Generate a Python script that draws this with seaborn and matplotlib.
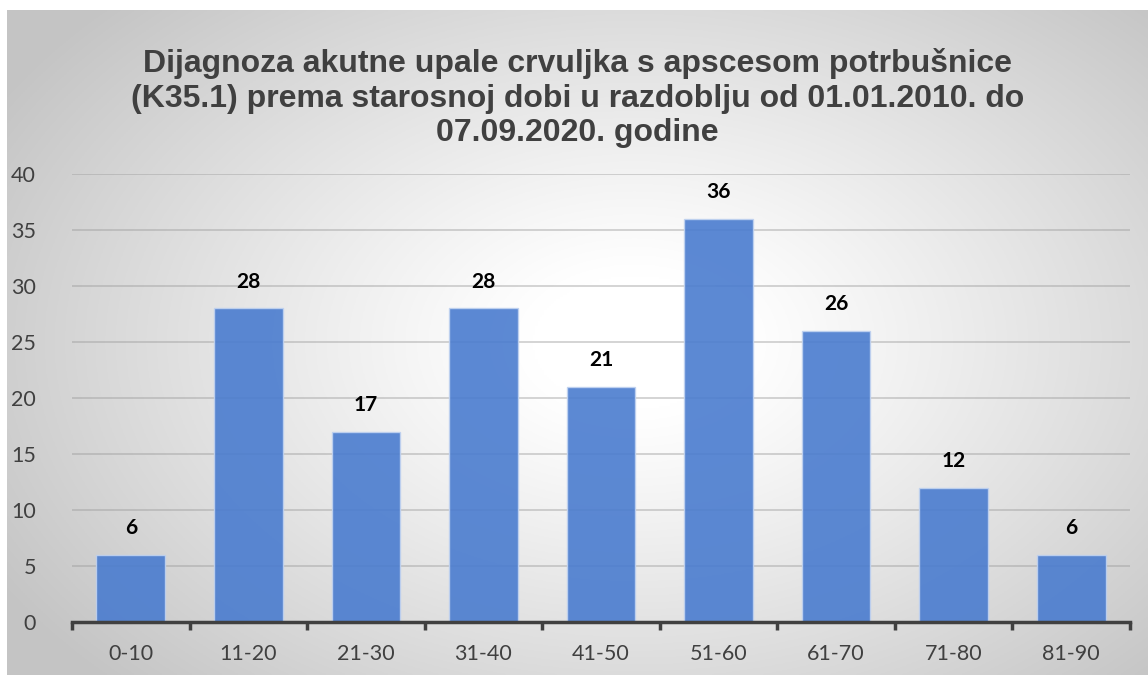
import numpy as np
import pandas as pd
import matplotlib.pyplot as plt
import seaborn as sns

# podaci
dobne_skupine = ['0-10', '11-20', '21-30', '31-40', '41-50', '51-60', '61-70', '71-80', '81-90']
broj_slucajeva = [6, 28, 17, 28, 21, 36, 26, 12, 6]
y_ticks = [0, 5, 10, 15, 20, 25, 30, 35, 40]

naslov = ('Dijagnoza akutne upale crvuljka s apscesom potrbušnice\n'
          '(K35.1) prema starosnoj dobi u razdoblju od 01.01.2010. do\n'
          '07.09.2020. godine')

df = pd.DataFrame({'dob': dobne_skupine, 'broj': broj_slucajeva})

sns.set_theme(style='white')
plt.rcParams['font.family'] = ['Lato', 'DejaVu Sans']

fig = plt.figure(figsize=(11.48, 6.75), dpi=100)
fig.patch.set_facecolor('white')

# radijalni gradijent u pozadini
bg = fig.add_axes([7 / 1148, 0, 1 - 7 / 1148, 1 - 10 / 675])
yy, xx = np.mgrid[0:1:300j, 0:1:500j]
r = np.sqrt(((xx - 0.55) / 0.75) ** 2 + ((yy - 0.5) / 0.85) ** 2)
grad = np.clip(1.0 - 0.32 * np.clip(r - 0.12, 0, None) ** 1.1, 0.77, 1.0)
bg.imshow(np.dstack([grad] * 3), aspect='auto', extent=[0, 1, 0, 1], origin='lower')
bg.set_axis_off()

ax = fig.add_axes([72 / 1148, 1 - 622 / 675, (1130 - 72) / 1148, (622 - 174) / 675])
ax.patch.set_alpha(0)

sns.barplot(data=df, x='dob', y='broj', ax=ax, color='#4a7ccf', saturation=1,
            width=0.585, edgecolor='#c0d2f0', linewidth=1.0, alpha=0.9, zorder=3)

ax.set_ylim(0, 40)
ax.set_xlim(-0.5, len(dobne_skupine) - 0.5)
ax.set_yticks(y_ticks)
ax.yaxis.grid(True, color='#9a9a9a', alpha=0.45, linewidth=1.3, zorder=0)
ax.set_axisbelow(True)

for s in ['top', 'right', 'left']:
    ax.spines[s].set_visible(False)
ax.spines['bottom'].set_color('#404040')
ax.spines['bottom'].set_linewidth(2.5)
ax.spines['bottom'].set_zorder(5)

# kvačice između kategorija
ax.set_xticks(np.arange(-0.5, len(dobne_skupine), 1), minor=True)
ax.tick_params(axis='x', which='minor', bottom=True, length=6, width=2.5, color='#404040')
ax.tick_params(axis='x', which='major', bottom=False, labelsize=15.5, colors='#404040', pad=10)
ax.tick_params(axis='y', left=False, labelsize=15.5, colors='#404040', pad=20)
ax.set_xlabel('')
ax.set_ylabel('')

for i, v in enumerate(broj_slucajeva):
    ax.text(i, v + 2.4, str(v), ha='center', va='center', fontsize=15,
            fontweight='bold', color='black')

fig.text(0.503, 0.929, naslov, ha='center', va='top', fontsize=23,
         fontweight='bold', color='#404040', linespacing=1.2,
         family=['Liberation Sans', 'DejaVu Sans'])

fig.savefig('out.png', dpi=100)
